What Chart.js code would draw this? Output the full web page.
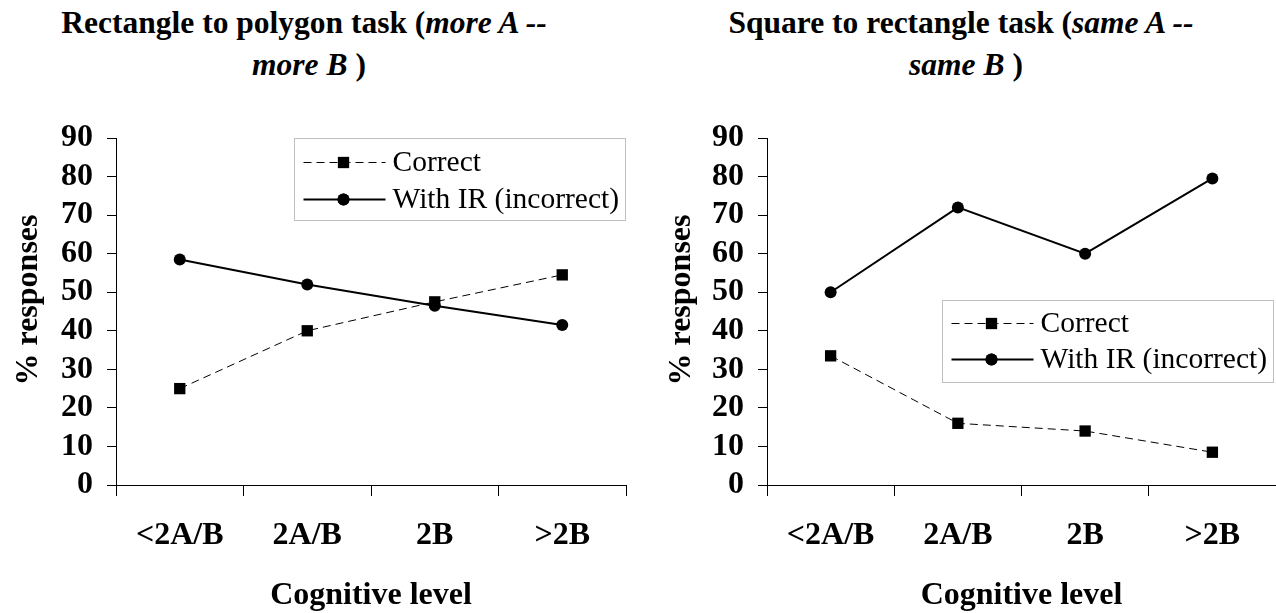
<!DOCTYPE html>
<html>
<head>
<meta charset="utf-8">
<script src="https://cdn.jsdelivr.net/npm/chart.js@4.4.1/dist/chart.umd.min.js"></script>
<style>
  html, body { margin: 0; padding: 0; background: #fff; }
  #wrap { position: relative; width: 1276px; height: 613px; overflow: hidden; background: #fff; }
  .title { position: absolute; top: 2px; font-family: 'Liberation Serif', 'Times New Roman', serif;
           font-size: 31.5px; line-height: 42px; font-weight: bold; text-align: center; color: #000; white-space: nowrap; }
  .l2 { position: relative; left: 5px; }
  canvas { position: absolute; top: 0; }
</style>
</head>
<body>
<div id="wrap">
  <div class="title" style="left:0;width:608px;">Rectangle to polygon task (<i>more A --</i><br><span class="l2"><i>more B </i>)</span></div>
  <div class="title" style="left:642px;width:638px;">Square to rectangle task (<i>same A --</i><br><span class="l2"><i>same B </i>)</span></div>
  <canvas id="c1" width="638" height="613" style="left:0;"></canvas>
  <canvas id="c2" width="625" height="613" style="left:651px;"></canvas>
</div>
<script>
// ---- data ----
const categories = ['<2A/B', '2A/B', '2B', '>2B'];
const seriesNames = ['Correct', 'With IR (incorrect)'];
const rectCorrect = [25, 40, 47.5, 54.5];
const rectWithIR = [58.5, 52, 46.5, 41.5];
const squareCorrect = [33.5, 16, 14, 8.5];
const squareWithIR = [50, 72, 60, 79.5];
const yMin = 0, yMax = 90, yStep = 10;
const xTitle = 'Cognitive level';
const yTitle = '% responses';

const FONT = "'Liberation Serif', 'Times New Roman', serif";

const boxLegend = {
  id: 'boxLegend',
  afterDatasetsDraw(chart, args, o) {
    const { ctx, chartArea } = chart;
    const w = o.width, h = o.height;
    const left = Math.round(chartArea.right + o.dx - w) + 0.5;
    const top = Math.round(chartArea.top + o.dy) + 0.5;
    ctx.save();
    ctx.fillStyle = '#fff';
    ctx.fillRect(left, top, w, h);
    ctx.strokeStyle = '#c0c0c0';
    ctx.lineWidth = 1;
    ctx.strokeRect(left, top, w, h);
    chart.data.datasets.forEach((ds, i) => {
      const y = top + o.rows[i];
      ctx.save();
      ctx.strokeStyle = ds.borderColor;
      ctx.lineWidth = ds.borderWidth;
      ctx.setLineDash(ds.borderDash || []);
      ctx.beginPath();
      ctx.moveTo(left + 9, y);
      ctx.lineTo(left + 91, y);
      ctx.stroke();
      ctx.restore();
      Chart.helpers.drawPoint(ctx, {
        pointStyle: ds.pointStyle, radius: ds.pointRadius, borderWidth: 0
      }, left + 49, y);
      ctx.fillStyle = '#000';
      ctx.fill();
      ctx.font = '29.5px ' + FONT;
      ctx.fillStyle = '#000';
      ctx.textBaseline = 'middle';
      ctx.textAlign = 'left';
      ctx.fillText(ds.label, left + 98, y + 1);
    });
    ctx.restore();
  }
};

const axisTitles = {
  id: 'axisTitles',
  afterDraw(chart, args, o) {
    const { ctx, chartArea } = chart;
    ctx.save();
    ctx.font = 'bold 32px ' + FONT;
    ctx.fillStyle = '#000';
    ctx.textAlign = 'center';
    ctx.textBaseline = 'middle';
    ctx.fillText(xTitle, (chartArea.left + chartArea.right) / 2, o.xTitleY);
    ctx.translate(o.yTitleX, o.yTitleY);
    ctx.rotate(-Math.PI / 2);
    ctx.fillText(yTitle, 0, 0);
    ctx.restore();
  }
};

function makeChart(id, correct, withIR, legendPos, titlePos, padRight) {
  return new Chart(document.getElementById(id), {
    type: 'line',
    data: {
      labels: categories,
      datasets: [
        { label: seriesNames[0], data: correct, borderColor: '#000', backgroundColor: '#000',
          borderWidth: 1, borderDash: [8, 5], pointStyle: 'rect', pointRadius: 8,
          pointBackgroundColor: '#000', pointBorderWidth: 0, tension: 0, fill: false },
        { label: seriesNames[1], data: withIR, borderColor: '#000', backgroundColor: '#000',
          borderWidth: 2, pointStyle: 'circle', pointRadius: 6,
          pointBackgroundColor: '#000', pointBorderWidth: 0, tension: 0, fill: false }
      ]
    },
    options: {
      responsive: false,
      animation: false,
      devicePixelRatio: 1,
      layout: { autoPadding: false, padding: { top: 138, left: 0, right: padRight, bottom: 0 } },
      plugins: {
        legend: { display: false },
        tooltip: { enabled: false },
        title: { display: false },
        boxLegend: legendPos,
        axisTitles: titlePos
      },
      scales: {
        x: {
          type: 'category',
          offset: true,
          grid: { display: true, drawOnChartArea: false, drawTicks: true, tickLength: 11, color: '#000', offset: true, lineWidth: 1 },
          border: { display: true, color: '#000', width: 1 },
          ticks: { color: '#000', font: { family: FONT, size: 32, weight: 'bold', lineHeight: 1.2 }, padding: 21, maxRotation: 0, autoSkip: false },
          title: { display: false },
          afterFit(scale) { scale.height = 128; scale.paddingLeft = 0; scale.paddingRight = 0; }
        },
        y: {
          min: yMin, max: yMax,
          grid: { display: true, drawOnChartArea: false, drawTicks: true, tickLength: 9, color: '#000', lineWidth: 1 },
          border: { display: true, color: '#000', width: 1 },
          ticks: { stepSize: yStep, autoSkip: false, color: '#000', font: { family: FONT, size: 32, weight: 'bold', lineHeight: 1.2 }, padding: 14 },
          title: { display: false },
          afterFit(scale) { scale.width = 116; }
        }
      }
    },
    plugins: [boxLegend, axisTitles]
  });
}

makeChart('c1', rectCorrect, rectWithIR,
  { width: 331, height: 82, dx: -1, dy: 0, rows: [24, 61] },
  { xTitleY: 596, yTitleX: 29, yTitleY: 300 }, 12);
makeChart('c2', squareCorrect, squareWithIR,
  { width: 331, height: 82, dx: -3, dy: 162, rows: [23, 59] },
  { xTitleY: 596, yTitleX: 31, yTitleY: 300 }, 0);
</script>
</body>
</html>
